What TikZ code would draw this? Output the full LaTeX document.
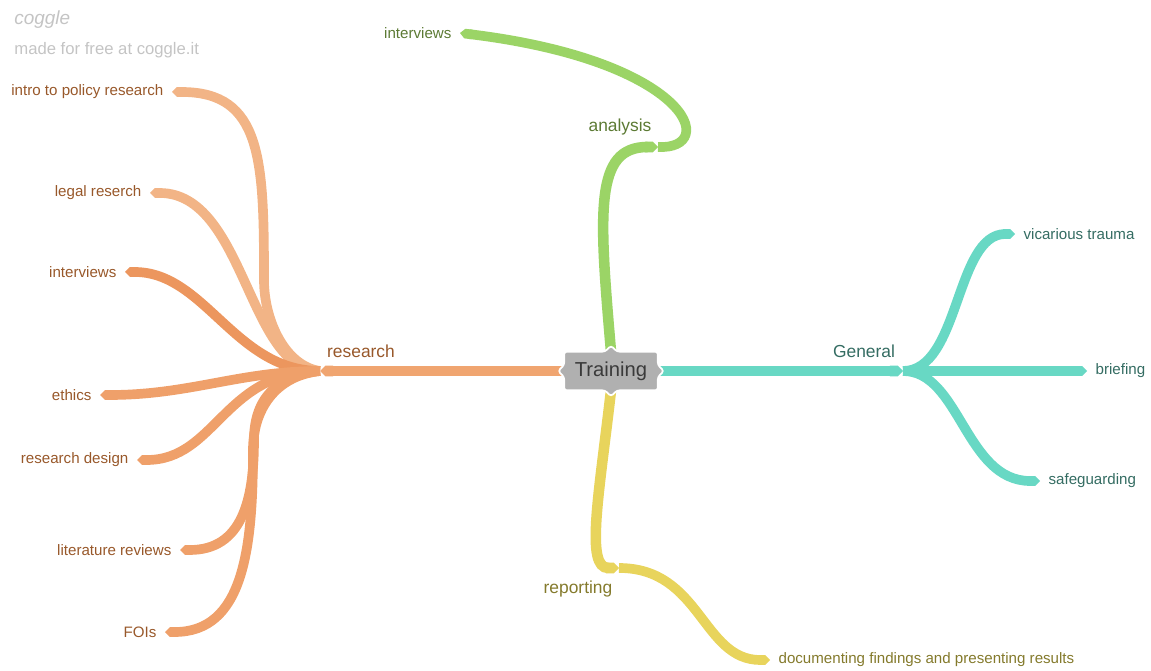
\documentclass[tikz,border=0pt]{standalone}
\usepackage{fontspec}
\setmainfont{Liberation Sans}
\usetikzlibrary{arrows.meta, calc}
\pgfdeclarelayer{branches}
\pgfsetlayers{branches,main}
\definecolor{resfill}{RGB}{240,165,112}
\definecolor{resleafA}{RGB}{242,180,134}
\definecolor{resleafB}{RGB}{236,150,94}
\definecolor{resleafC}{RGB}{239,160,106}
\definecolor{restext}{RGB}{152,88,42}
\definecolor{anafill}{RGB}{155,212,102}
\definecolor{anatext}{RGB}{92,122,52}
\definecolor{genfill}{RGB}{104,216,196}
\definecolor{gentext}{RGB}{52,108,98}
\definecolor{repfill}{RGB}{232,212,92}
\definecolor{reptext}{RGB}{132,122,44}
\definecolor{hubgray}{RGB}{176,176,176}
\definecolor{hubtext}{RGB}{58,58,58}
\definecolor{logogray}{RGB}{196,196,196}
\tikzset{
  limb/.style={line width=6pt, -{Triangle Cap}},
  twig/.style={line width=5.5pt, -{Triangle Cap}},
  cut/.style={draw=white, line width=7.4pt, -{Triangle Cap}},
  hubbox/.style={fill=hubgray, draw=white, line width=1pt, rounded corners=1.5pt},
  hublabel/.style={font=\fontsize{11.5pt}{13pt}\selectfont, text=hubtext,
                   minimum width=1.86cm, minimum height=0.76cm, inner sep=0pt},
  limblabel/.style={font=\fontsize{9.9pt}{12pt}\selectfont, inner sep=1pt},
  leafL/.style={font=\fontsize{8.6pt}{10pt}\selectfont, anchor=east, inner xsep=4.7pt, inner ysep=1pt},
  leafR/.style={font=\fontsize{8.6pt}{10pt}\selectfont, anchor=west, inner xsep=4.7pt, inner ysep=1pt},
  logo/.style={text=logogray, anchor=west, inner sep=0pt}
}

\begin{document}
\begin{tikzpicture}[x=0.02cm, y=-0.02cm]
\useasboundingbox (0,0) rectangle (1151,671);

\node[logo, font=\itshape\fontsize{10.8pt}{12pt}\selectfont] (logo) at (14,20) {coggle};
\node[logo, font=\fontsize{9.5pt}{11pt}\selectfont] (madefor) at (14,50) {made for free at coggle.it};

% centre and first-level labels
\node[hublabel] (train) at (611,371) {Training};
\node[limblabel, text=restext] (research) at (361,351) {research};
\node[limblabel, text=anatext] (analysis) at (620,127) {analysis};
\node[limblabel, text=gentext] (general) at (864,351) {General};
\node[limblabel, text=reptext] (reporting) at (578,589) {reporting};

\coordinate (resHub) at (320,371);
\coordinate (anaEnd) at (658,147);
\coordinate (genHub) at (903,371);
\coordinate (repEnd) at (619,568);

% research leaves
\node[leafL, text=restext] (intro) at (172,92) {intro to policy research};
\node[leafL, text=restext] (legal) at (150,193) {legal reserch};
\node[leafL, text=restext] (resint) at (125,272) {interviews};
\node[leafL, text=restext] (ethics) at (100,395) {ethics};
\node[leafL, text=restext] (design) at (137,460) {research design};
\node[leafL, text=restext] (litrev) at (180,550) {literature reviews};
\node[leafL, text=restext] (fois) at (165,632) {FOIs};

% other leaves
\node[leafL, text=anatext] (anaint) at (460,33) {interviews};
\node[leafR, text=gentext] (trauma) at (1015,234) {vicarious trauma};
\node[leafR, text=gentext] (brief) at (1087,371) {briefing};
\node[leafR, text=gentext] (safe) at (1040,481) {safeguarding};
\node[leafR, text=reptext] (docs) at (770,660) {documenting findings and presenting results};

\begin{pgfonlayer}{branches}
\draw[twig, resleafA] (resHub) .. controls +(-35,-5) and +(0,40) .. (264,280)
  .. controls +(0,-120) and +(90,0) .. (intro.east);
\draw[twig, resleafA] (resHub) .. controls +(-72,0) and +(95,0) .. (legal.east);
\draw[twig, resleafB] (resHub) .. controls +(-85,0) and +(80,0) .. (resint.east);
\draw[twig, resleafC] (resHub) .. controls +(-80,0) and +(90,0) .. (ethics.east);
\draw[twig, resleafC] (resHub) .. controls +(-96,0) and +(79,0) .. (design.east);
\draw[twig, resleafC] (resHub) .. controls +(-45,5) and +(0,-40) .. (254,440)
  .. controls +(0,60) and +(62,0) .. (litrev.east);
\draw[twig, resleafC] (resHub) .. controls +(-45,5) and +(0,-40) .. (253,450)
  .. controls +(0,100) and +(78,0) .. (fois.east);

\draw[twig, anafill] (anaEnd) .. controls +(62,3) and +(230,28) .. (anaint.east);

\draw[twig, genfill] (genHub) .. controls +(57,0) and +(-60,0) .. (trauma.west);
\draw[twig, genfill] (genHub) -- (brief.west);
\draw[twig, genfill] (genHub) .. controls +(57,0) and +(-75,0) .. (safe.west);

\draw[twig, repfill] (repEnd) .. controls +(82,0) and +(-68,0) .. (docs.west);

% first-level limbs, each with a thin white rim at its tip
\draw[cut] (train.west) -- (resHub);
\draw[limb, resfill] (train.west) -- (resHub);
\draw[cut] (train.north) .. controls +(-12,-140) and +(-64,0) .. (anaEnd);
\draw[limb, anafill] (train.north) .. controls +(-12,-140) and +(-64,0) .. (anaEnd);
\draw[cut] (train.east) -- (genHub);
\draw[limb, genfill] (train.east) -- (genHub);
\draw[cut] (train.south) .. controls +(-12,105) and +(-34,0) .. (repEnd);
\draw[limb, repfill] (train.south) .. controls +(-12,105) and +(-34,0) .. (repEnd);

% grey box with a point on every side
\path[hubbox] (train.north west) -- ($(train.north)+(-6,0)$) -- ($(train.north)+(0,-6)$)
  -- ($(train.north)+(6,0)$) -- (train.north east) -- ($(train.east)+(0,-6)$)
  -- ($(train.east)+(6,0)$) -- ($(train.east)+(0,6)$) -- (train.south east)
  -- ($(train.south)+(6,0)$) -- ($(train.south)+(0,6)$) -- ($(train.south)+(-6,0)$)
  -- (train.south west) -- ($(train.west)+(0,6)$) -- ($(train.west)+(-6,0)$)
  -- ($(train.west)+(0,-6)$) -- cycle;
\end{pgfonlayer}
\end{tikzpicture}
\end{document}
